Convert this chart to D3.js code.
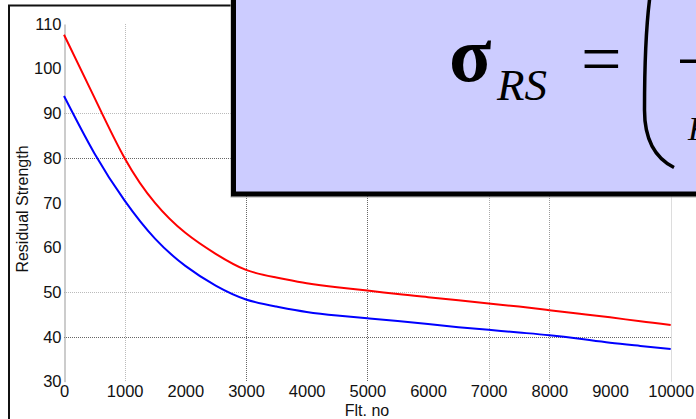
<!DOCTYPE html>
<html>
<head>
<meta charset="utf-8">
<script src="https://cdn.jsdelivr.net/npm/d3@7"></script>
<style>
  html, body { margin: 0; padding: 0; background: #fff; }
  svg { display: block; }
  .tick text { font-family: "Liberation Sans", Arial, sans-serif; font-size: 16.5px; fill: #111; }
</style>
</head>
<body>
<svg id="chart" width="696" height="419"></svg>
<script>
// Flight number samples (x) and residual strength for the two curves
const flights = [0, 500, 1000, 1500, 2000, 2500, 3000, 3500, 4000, 4500, 5000,
                 5500, 6000, 6500, 7000, 7500, 8000, 8500, 9000, 9500, 10000];
const upperStrength = [107.6, 93.6, 80.0, 70.0, 63.3, 58.6, 55.0, 53.3, 52.0, 51.1, 50.4,
                       49.6, 48.9, 48.2, 47.5, 46.8, 46.0, 45.2, 44.4, 43.5, 42.7];
const lowerStrength = [93.9, 81.1, 70.5, 62.0, 55.9, 51.5, 48.4, 46.8, 45.6, 44.8, 44.2,
                       43.6, 42.9, 42.2, 41.6, 41.0, 40.4, 39.6, 38.7, 38.0, 37.3];

// Axis ticks and the grid lines that are drawn
const xTicks = [0, 1000, 2000, 3000, 4000, 5000, 6000, 7000, 8000, 9000, 10000];
const yTicks = [30, 40, 50, 60, 70, 80, 90, 100, 110];
const xGrid = [1000, 3000, 5000, 7000, 8000, 10000];
const yGrid = [40, 50, 80, 90];

const xTitle = "Flt. no";
const yTitle = "Residual Strength";

const svg = d3.select("#chart");

const x = d3.scaleLinear().domain([0, 10000]).range([64, 670.7]);
const y = d3.scaleLinear().domain([30, 110]).range([381.7, 24]);

// grid tones
const gridTone = {
  y: { 40: "#666", 50: "#bbb", 80: "#666", 90: "#bbb" },
  x: { 1000: "#bbb", 3000: "#666", 5000: "#666", 7000: "#aaa", 8000: "#999", 10000: "#ddd" }
};

// outer slide frame
svg.append("line").attr("x1", 9).attr("x2", 9).attr("y1", 5).attr("y2", 419)
  .attr("stroke", "#111").attr("stroke-width", 2);
svg.append("line").attr("x1", 8).attr("x2", 240).attr("y1", 5.5).attr("y2", 5.5)
  .attr("stroke", "#111").attr("stroke-width", 2);

// grid
const grid = svg.append("g");
grid.selectAll("line.gy").data(yGrid).join("line")
  .attr("class", "gy")
  .attr("x1", x(0)).attr("x2", x(10000))
  .attr("y1", d => Math.round(y(d)) + 0.5).attr("y2", d => Math.round(y(d)) + 0.5)
  .attr("stroke", d => gridTone.y[d]).attr("stroke-width", 1)
  .attr("stroke-dasharray", "1,1");
grid.selectAll("line.gx").data(xGrid).join("line")
  .attr("class", "gx")
  .attr("x1", d => Math.round(x(d)) + 0.5).attr("x2", d => Math.round(x(d)) + 0.5)
  .attr("y1", y(110)).attr("y2", y(30))
  .attr("stroke", d => gridTone.x[d]).attr("stroke-width", 1)
  .attr("stroke-dasharray", d => d === 10000 ? null : "1,1");

// axes
const yAxis = svg.append("g")
  .attr("transform", "translate(64.5,0)")
  .call(d3.axisLeft(y).tickValues(yTicks).tickSize(0).tickPadding(3).tickFormat(d3.format("d")));
yAxis.select(".domain").attr("stroke", "#999");

const xAxis = svg.append("g")
  .attr("transform", `translate(0,${y(30)})`)
  .call(d3.axisBottom(x).tickValues(xTicks).tickSize(0).tickPadding(4).tickFormat(d3.format("d")));
xAxis.select(".domain").remove();

// axis titles
svg.append("text")
  .attr("x", 367).attr("y", 416)
  .attr("text-anchor", "middle")
  .style("font-family", '"Liberation Sans", Arial, sans-serif')
  .style("font-size", "16px").style("fill", "#111")
  .text(xTitle);
svg.append("text")
  .attr("transform", "translate(28,209) rotate(-90)")
  .attr("text-anchor", "middle")
  .style("font-family", '"Liberation Sans", Arial, sans-serif')
  .style("font-size", "16px").style("fill", "#111")
  .text(yTitle);

// curves
const line = d3.line()
  .x((d, i) => x(flights[i]))
  .y(d => y(d))
  .curve(d3.curveNatural);

svg.append("path").datum(upperStrength)
  .attr("d", line).attr("fill", "none")
  .attr("stroke", "#ff0000").attr("stroke-width", 2);
svg.append("path").datum(lowerStrength)
  .attr("d", line).attr("fill", "none")
  .attr("stroke", "#0000ff").attr("stroke-width", 2);

// formula panel
const panel = svg.append("g");
panel.append("rect")
  .attr("x", 231).attr("y", -20).attr("width", 500).attr("height", 217)
  .attr("fill", "none").attr("stroke", "#aaa").attr("stroke-width", 1);
panel.append("rect")
  .attr("x", 233.5).attr("y", -20).attr("width", 500).attr("height", 214)
  .attr("fill", "#ccccff").attr("stroke", "#000").attr("stroke-width", 5);

const serif = '"Liberation Serif", "Times New Roman", serif';
panel.append("text")
  .attr("x", 449).attr("y", 81)
  .style("font-family", serif).style("font-weight", "bold")
  .style("font-size", "78px").style("fill", "#000")
  .text("σ");
panel.append("text")
  .attr("x", 497).attr("y", 100)
  .style("font-family", serif).style("font-style", "italic")
  .style("font-size", "45px").style("fill", "#000")
  .text("RS");
panel.append("text")
  .attr("x", 581).attr("y", 83)
  .style("font-family", serif).style("font-size", "72px").style("fill", "#000")
  .text("=");
// tall left parenthesis
panel.append("path")
  .attr("d", "M650,-4 C645.5,30 644.5,60 644.5,110 C644.5,140 655,158 674,167.5")
  .attr("fill", "none").attr("stroke", "#000").attr("stroke-width", 3.5);
// fraction bar and start of the denominator
panel.append("rect")
  .attr("x", 680).attr("y", 59.5).attr("width", 30).attr("height", 3.5)
  .attr("fill", "#000");
panel.append("text")
  .attr("x", 688).attr("y", 140)
  .style("font-family", serif).style("font-style", "italic")
  .style("font-size", "34px").style("fill", "#000")
  .text("K");
</script>
</body>
</html>
